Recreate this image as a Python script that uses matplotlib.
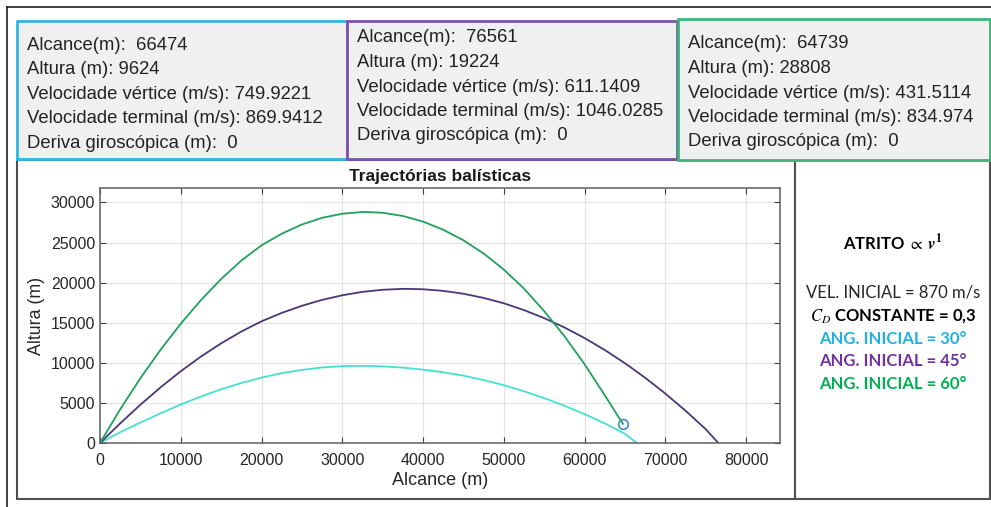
import matplotlib
matplotlib.use("Agg")
import matplotlib.pyplot as plt
from matplotlib.patches import Rectangle
from matplotlib.lines import Line2D

W, H = 991, 507

# summary values per launch angle
angulos = [30, 45, 60]
alcance = [66474, 76561, 64739]
altura = [9624, 19224, 28808]
vel_vertice = ["749.9221", "611.1409", "431.5114"]
vel_terminal = ["869.9412", "1046.0285", "834.974"]
deriva = [0, 0, 0]

# trajectory samples (m)
x30 = [0, 2500, 5000, 7500, 10000, 12500, 15000, 17500, 20000, 22500, 25000, 27500,
       30000, 32500, 35000, 37500, 40000, 42500, 45000, 47500, 50000, 52500, 55000,
       57500, 60000, 62500, 65000, 66474]
y30 = [0, 1350, 2550, 3700, 4800, 5800, 6700, 7480, 8150, 8700, 9120, 9420,
       9590, 9624, 9560, 9400, 9150, 8820, 8400, 7850, 7200, 6450, 5600,
       4650, 3600, 2450, 1150, 0]

x45 = [0, 2500, 5000, 7500, 10000, 12500, 15000, 17500, 20000, 22500, 25000, 27500,
       30000, 32500, 35000, 37500, 38000, 40000, 42500, 45000, 47500, 50000, 52500,
       55000, 57500, 60000, 62500, 65000, 67500, 70000, 72500, 75000, 76561]
y45 = [0, 2450, 4770, 6940, 8950, 10780, 12430, 13900, 15174, 16221, 17111, 17846,
       18424, 18846, 19111, 19221, 19224, 19174, 18971, 18612, 18096, 17424, 16574,
       15574, 14412, 13087, 11600, 9950, 8138, 6163, 4026, 1726, 0]

x60 = [0, 2500, 5000, 7500, 10000, 12500, 15000, 17500, 20000, 22500, 25000, 27500,
       30000, 32500, 33000, 35000, 37500, 40000, 42500, 45000, 47500, 50000, 52500,
       55000, 57500, 60000, 62500, 64739]
y60 = [0, 4200, 8075, 11625, 14875, 17825, 20450, 22750, 24650, 26100, 27250, 28082,
       28592, 28802, 28808, 28710, 28312, 27608, 26597, 25280, 23630, 21630, 19255,
       16450, 13330, 9830, 5960, 2400]

xticks = [0, 10000, 20000, 30000, 40000, 50000, 60000, 70000, 80000]
yticks = [0, 5000, 10000, 15000, 20000, 25000, 30000]

line_cols = ["#45e0d2", "#4a3778", "#21a05c"]
box_cols = ["#35b3e4", "#7b52a8", "#3cb47a"]
txt_cols = ["#1fb0e8", "#7030a0", "#00b050"]

plt.rcParams["mathtext.fontset"] = "stix"
UI = "Liberation Sans"
SIDE = "Lato"


def fx(x):
    return x / W


def fy(y):
    return 1 - y / H


def rect(fig, x0, y0, x1, y1, **kw):
    fig.add_artist(Rectangle((fx(x0), fy(y1)), fx(x1) - fx(x0), fy(y0) - fy(y1),
                             transform=fig.transFigure, **kw))


fig = plt.figure(figsize=(W / 100, H / 100), dpi=100)
fig.patch.set_facecolor("white")

# outer frame lines
fig.add_artist(Line2D([fx(7), fx(991)], [fy(7), fy(7)], transform=fig.transFigure,
                      color="#202020", lw=1.2))
fig.add_artist(Line2D([fx(7), fx(7)], [fy(7), fy(507)], transform=fig.transFigure,
                      color="#202020", lw=1.2))

# lower panels (plot + notes)
rect(fig, 17, 160, 795, 499, facecolor="white", edgecolor="#505050", lw=1.5, zorder=1)
rect(fig, 795, 160, 990, 499, facecolor="white", edgecolor="#505050", lw=1.5, zorder=1)

# info boxes
boxes = [(17, 21, 347, 159), (347, 21, 677, 159), (678, 19, 990, 160)]
first_line = [45, 38, 44]
for i, (x0, y0, x1, y1) in enumerate(boxes):
    rect(fig, x0, y0, x1, y1, facecolor="#f0f0f0", edgecolor=box_cols[i], lw=2, zorder=2)
    lines = [f"Alcance(m):  {alcance[i]}",
             f"Altura (m): {altura[i]}",
             f"Velocidade vértice (m/s): {vel_vertice[i]}",
             f"Velocidade terminal (m/s): {vel_terminal[i]}",
             f"Deriva giroscópica (m):  {deriva[i]}"]
    for k, s in enumerate(lines):
        fig.text(fx(x0 + 10), fy(first_line[i] + k * 24.5), s, fontsize=13.3,
                 family=UI, color="#222222", ha="left", va="center", zorder=3)

# trajectories
ax = fig.add_axes([fx(100), fy(443), fx(780) - fx(100), fy(188) - fy(443)], zorder=4)
ax.plot(x30, y30, color=line_cols[0], lw=1.3)
ax.plot(x45, y45, color=line_cols[1], lw=1.3)
ax.plot(x60, y60, color=line_cols[2], lw=1.3)
ax.plot(x60[-1], y60[-1], "o", mfc="none", mec="#3a90cf", ms=7, mew=1.2)
ax.set_xlim(0, 84200)
ax.set_ylim(0, 31800)
ax.set_xticks(xticks)
ax.set_yticks(yticks)
ax.set_xticklabels([str(t) for t in xticks])
ax.set_yticklabels([str(t) for t in yticks])
ax.grid(True, color="#e2e2e2", lw=0.8)
ax.set_axisbelow(True)
ax.tick_params(direction="in", top=True, right=True, length=4, color="#404040",
               labelcolor="#262626", labelsize=11.5)
ax.tick_params(axis="x", pad=7)
for lab in ax.get_xticklabels() + ax.get_yticklabels():
    lab.set_family(UI)
for sp in ax.spines.values():
    sp.set_color("#606060")
    sp.set_linewidth(1.1)
ax.set_title("Trajectórias balísticas", family=UI, fontsize=12.5, fontweight="bold",
             color="#1a1a1a", pad=5)
ax.set_xlabel("Alcance (m)", family=UI, fontsize=13, color="#262626", labelpad=3)
ax.set_ylabel("Altura (m)", family=UI, fontsize=12.8, color="#262626", labelpad=4)

# notes panel
cx = fx(893)
fig.text(cx, fy(243), r"ATRITO $\propto$ $\boldsymbol{v}^{\mathbf{1}}$", family=SIDE,
         fontsize=12, fontweight="bold", color="black", ha="center", va="center")
fig.text(cx, fy(292), "VEL. INICIAL = 870 m/s", family=SIDE, fontsize=12,
         color="#262626", ha="center", va="center")
fig.text(cx, fy(316), r"$\boldsymbol{C_D}$ CONSTANTE = 0,3", family=SIDE, fontsize=12,
         fontweight="bold", color="black", ha="center", va="center")
for i, yy in enumerate([339, 361, 384]):
    fig.text(cx, fy(yy), f"ANG. INICIAL = {angulos[i]}°", family=SIDE, fontsize=12,
             fontweight="bold", color=txt_cols[i], ha="center", va="center")

fig.savefig("out.png", dpi=100)
